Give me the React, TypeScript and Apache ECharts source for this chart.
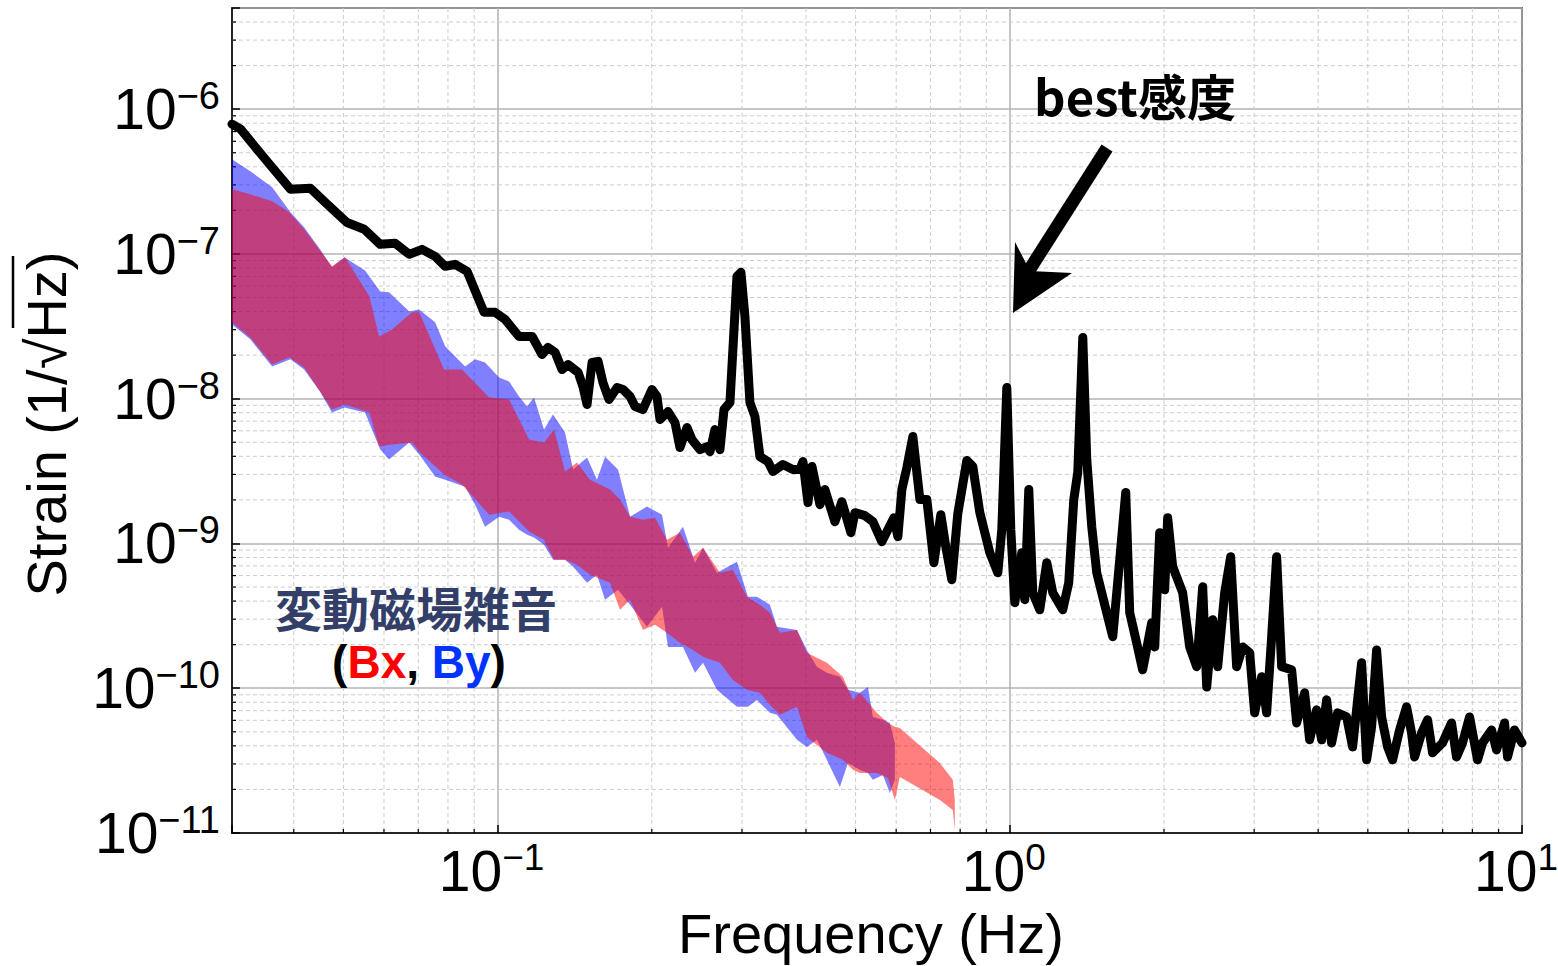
import React, { useEffect, useRef } from 'react';
import * as echarts from 'echarts';

const FONT = "'Liberation Sans', Arial, Helvetica, sans-serif";
const CJK = "'Noto Sans CJK JP', 'Liberation Sans', sans-serif";

const X_MIN = 0.0303;
const X_MAX = 10;
const Y_MIN = 1e-11;
const Y_MAX = 5e-6;

// best sensitivity curve: [frequency Hz, strain 1/sqrt(Hz)]
const sensitivityCurve: [number, number][] = [
  [0.0303, 7.88e-7], [0.0315, 7.27e-7], [0.0352, 4.51e-7], [0.0394, 2.8e-7], [0.0431, 2.84e-7],
  [0.0461, 2.27e-7], [0.0508, 1.65e-7], [0.0549, 1.48e-7], [0.059, 1.165e-7], [0.0631, 1.184e-7],
  [0.0672, 9.94e-8], [0.0712, 1.076e-7], [0.0755, 9.62e-8], [0.079, 8.21e-8], [0.0826, 8.48e-8],
  [0.0872, 7.58e-8], [0.0941, 3.95e-8], [0.0989, 3.95e-8], [0.1034, 3.53e-8], [0.1101, 2.69e-8],
  [0.1168, 2.69e-8], [0.1221, 2.02e-8], [0.1254, 2.26e-8], [0.1295, 2.09e-8], [0.1336, 1.59e-8],
  [0.1373, 1.72e-8], [0.1436, 1.52e-8], [0.1468, 1.21e-8], [0.1495, 9.12e-9], [0.1529, 1.78e-8],
  [0.1571, 1.81e-8], [0.1606, 1.29e-8], [0.165, 9.87e-9], [0.1711, 1.195e-8], [0.1758, 1.158e-8],
  [0.1814, 1.036e-8], [0.1855, 8.83e-9], [0.1922, 8.42e-9], [0.2001, 1.158e-8], [0.2047, 1.036e-8],
  [0.2075, 7.18e-9], [0.2151, 8.15e-9], [0.222, 6.84e-9], [0.227, 4.6e-9], [0.2343, 6.32e-9],
  [0.2396, 5.22e-9], [0.2484, 4.45e-9], [0.2563, 4.67e-9], [0.2598, 4.31e-9], [0.2657, 6.12e-9],
  [0.2717, 4.45e-9], [0.2767, 8.42e-9], [0.2842, 9.41e-9], [0.2933, 7.0e-8], [0.2986, 7.46e-8],
  [0.304, 3.7e-8], [0.3109, 9.41e-9], [0.318, 7.53e-9], [0.3252, 3.98e-9], [0.3371, 3.68e-9],
  [0.3448, 3.14e-9], [0.3606, 3.51e-9], [0.3772, 3.24e-9], [0.3893, 3.24e-9], [0.3946, 3.68e-9],
  [0.4036, 1.915e-9], [0.4109, 3.4e-9], [0.4259, 1.855e-9], [0.4355, 2.36e-9], [0.4555, 1.415e-9],
  [0.4701, 1.945e-9], [0.4896, 1.188e-9], [0.4985, 1.633e-9], [0.5213, 1.557e-9], [0.5404, 1.415e-9],
  [0.5625, 1.029e-9], [0.5938, 1.508e-9], [0.6046, 1.114e-9], [0.6156, 2.36e-9], [0.6295, 3.34e-9],
  [0.6467, 5.48e-9], [0.6675, 2.01e-9], [0.6887, 2.01e-9], [0.7108, 7.37e-10], [0.7334, 1.582e-9],
  [0.75, 9.5e-10], [0.7705, 5.62e-10], [0.7915, 1.607e-9], [0.8243, 3.74e-9], [0.8468, 3.4e-9],
  [0.8739, 1.633e-9], [0.914, 8.64e-10], [0.9475, 6.28e-10], [0.9647, 1.246e-9], [0.9866, 1.195e-8],
  [1.0045, 1.246e-9], [1.0228, 3.9e-10], [1.0554, 8.64e-10], [1.0698, 4.09e-10], [1.0891, 2.36e-9],
  [1.1088, 4.57e-10], [1.1442, 3.48e-10], [1.1808, 7.37e-10], [1.2131, 4.57e-10], [1.2687, 3.48e-10],
  [1.3034, 5.36e-10], [1.3332, 2.01e-9], [1.3574, 3.1e-9], [1.3883, 2.65e-8], [1.4134, 3.8e-9],
  [1.4454, 1.307e-9], [1.4783, 6.28e-10], [1.5323, 3.77e-10], [1.5886, 2.27e-10], [1.6393, 7.73e-10],
  [1.684, 2.25e-9], [1.7146, 3.32e-10], [1.7685, 2.06e-10], [1.8168, 1.34e-10], [1.8923, 2.83e-10],
  [1.9184, 1.93e-10], [1.9617, 1.188e-9], [2.0063, 4.79e-10], [2.0334, 1.508e-9], [2.0797, 6.91e-10],
  [2.1752, 4.57e-10], [2.245, 1.93e-10], [2.317, 1.41e-10], [2.3801, 5.02e-10], [2.4233, 1.02e-10],
  [2.4895, 2.97e-10], [2.5462, 1.41e-10], [2.6273, 4.57e-10], [2.6991, 8.11e-10], [2.7727, 1.41e-10],
  [2.8484, 1.93e-10], [2.9396, 1.76e-10], [3.0063, 6.76e-11], [3.1025, 1.2e-10], [3.173, 6.76e-11],
  [3.245, 2.27e-10], [3.3189, 8.11e-10], [3.3942, 1.41e-10], [3.5502, 1.34e-10], [3.6308, 5.76e-11],
  [3.7636, 9.29e-11], [3.8493, 4.4e-11], [3.9719, 7.09e-11], [4.0625, 4.4e-11], [4.1546, 8.31e-11],
  [4.2489, 4.19e-11], [4.3652, 6.76e-11], [4.5455, 6.34e-11], [4.6697, 3.93e-11], [4.8627, 1.5e-10],
  [4.9734, 3.2e-11], [5.0862, 5.41e-11], [5.2016, 1.84e-10], [5.3196, 6.34e-11], [5.4651, 3.93e-11],
  [5.5891, 3.2e-11], [5.7677, 5.15e-11], [5.9517, 7.44e-11], [6.0867, 4.91e-11], [6.1693, 3.35e-11],
  [6.3671, 4.91e-11], [6.5409, 6.05e-11], [6.69, 3.58e-11], [6.997, 4.19e-11], [7.2848, 5.76e-11],
  [7.4509, 3.35e-11], [7.6547, 4.19e-11], [7.8999, 6.34e-11], [8.1894, 3.2e-11], [8.3747, 4.19e-11],
  [8.7203, 5.15e-11], [8.9181, 3.75e-11], [9.2456, 5.76e-11], [9.371, 3.35e-11], [9.669, 5.15e-11],
  [10, 4.19e-11],
];

// By magnetic noise band: [frequency, upper, lower]
const byBand: [number, number, number][] = [
  [0.0303, 4.51e-7, 3.26e-8], [0.0329, 3.73e-7, 2.57e-8], [0.0363, 2.89e-7, 1.67e-8],
  [0.0394, 1.94e-7, 1.87e-8], [0.0419, 1.53e-7, 1.59e-8], [0.045, 1.076e-7, 1.12e-8],
  [0.0475, 8.08e-8, 8.03e-9], [0.0502, 9.47e-8, 8.69e-9], [0.0551, 7.7e-8, 8.03e-9],
  [0.059, 5.51e-8, 4.45e-9], [0.0614, 5.43e-8, 3.8e-9], [0.0672, 4.01e-8, 4.98e-9],
  [0.0703, 4.14e-8, 4.11e-9], [0.0755, 3.37e-8, 2.9e-9], [0.079, 2.3e-8, 2.76e-9],
  [0.0864, 1.67e-8, 2.47e-9], [0.0904, 1.87e-8, 1.855e-9], [0.0945, 1.78e-8, 1.307e-9],
  [0.1007, 1.4e-8, 1.53e-9], [0.1053, 1.315e-8, 1.46e-9], [0.1101, 1.036e-8, 1.246e-9],
  [0.1142, 8.83e-9, 1.15e-9], [0.1178, 1.02e-8, 1.1e-9], [0.1232, 6.12e-9, 9.81e-10],
  [0.1283, 7.78e-9, 7.73e-10], [0.1354, 5.84e-9, 7.73e-10], [0.1404, 3.24e-9, 6.91e-10],
  [0.1495, 3.92e-9, 5.36e-10], [0.1563, 2.76e-9, 6.08e-10], [0.1621, 3.98e-9, 4.09e-10],
  [0.1718, 3.24e-9, 4.79e-10], [0.1814, 1.53e-9, 3.77e-10], [0.1957, 1.8e-9, 2.66e-10],
  [0.2094, 1.582e-9, 3.66e-10], [0.2151, 9.35e-10, 1.93e-10], [0.2301, 1.307e-9, 1.93e-10],
  [0.2429, 7.37e-10, 1.28e-10], [0.2518, 9.35e-10, 1.5e-10], [0.2681, 6.28e-10, 9.75e-11],
  [0.2933, 7.49e-10, 7.44e-11], [0.3081, 4.29e-10, 7.44e-11], [0.3208, 4.29e-10, 8.31e-11],
  [0.3401, 3.77e-10, 6.76e-11], [0.351, 2.66e-10, 6.55e-11], [0.3841, 2.53e-10, 4.4e-11],
  [0.4016, 1.84e-10, 3.93e-11], [0.4201, 1.41e-10, 4.4e-11], [0.4394, 1.28e-10, 3.2e-11],
  [0.4659, 1.2e-10, 2.08e-11], [0.483, 9.75e-11, 3.05e-11], [0.5098, 9.29e-11, 2.73e-11],
  [0.5284, 1.02e-10, 2.6e-11], [0.5404, 6.34e-11, 2.33e-11], [0.5652, 6.05e-11, 2.52e-11],
  [0.5833, 5.76e-11, 1.89e-11], [0.5965, 4.19e-11, 2.33e-11],
];

// Bx magnetic noise band: [frequency, upper, lower]
const bxBand: [number, number, number][] = [
  [0.0303, 2.8e-7, 3.37e-8], [0.0329, 2.58e-7, 2.65e-8], [0.0363, 2.31e-7, 1.72e-8],
  [0.0392, 1.94e-7, 1.93e-8], [0.0419, 1.48e-7, 1.64e-8], [0.0475, 8.21e-8, 8.42e-9],
  [0.0504, 9.47e-8, 9.12e-9], [0.0562, 5.09e-8, 8.03e-9], [0.0587, 2.69e-8, 4.67e-9],
  [0.0622, 3.01e-8, 4.82e-9], [0.0681, 3.95e-8, 4.98e-9], [0.0703, 3.95e-8, 4.31e-9],
  [0.0786, 1.59e-8, 2.99e-9], [0.0852, 1.59e-8, 2.55e-9], [0.0963, 1.02e-8, 1.582e-9],
  [0.1053, 9.87e-9, 1.66e-9], [0.1152, 5.22e-9, 1.21e-9], [0.1232, 4.98e-9, 1.06e-9],
  [0.1289, 6.12e-9, 7.73e-10], [0.1354, 3.14e-9, 7.73e-10], [0.1429, 3.62e-9, 7.14e-10],
  [0.1515, 2.76e-9, 6.08e-10], [0.1658, 2.36e-9, 5.36e-10], [0.1734, 2.01e-9, 3.48e-10],
  [0.1814, 1.53e-9, 4.09e-10], [0.1922, 1.46e-9, 2.53e-10], [0.2029, 1.508e-9, 2.74e-10],
  [0.2141, 1.06e-9, 2.42e-10], [0.227, 1.188e-9, 2.06e-10], [0.2407, 8.11e-10, 1.84e-10],
  [0.2518, 9.35e-10, 1.65e-10], [0.2717, 6.28e-10, 1.5e-10], [0.288, 6.59e-10, 1.14e-10],
  [0.3067, 4.29e-10, 9.75e-11], [0.3252, 3.77e-10, 9.29e-11], [0.3401, 3.32e-10, 7.68e-11],
  [0.3557, 2.42e-10, 6.55e-11], [0.3841, 2.53e-10, 7.44e-11], [0.4016, 1.76e-10, 4.61e-11],
  [0.4394, 1.5e-10, 3.58e-11], [0.4722, 1.2e-10, 3.2e-11], [0.494, 8.31e-11, 2.73e-11],
  [0.5098, 9.29e-11, 2.6e-11], [0.55, 6.76e-11, 2.6e-11], [0.5781, 5.76e-11, 2.4e-11],
  [0.5965, 5.41e-11, 1.69e-11], [0.61, 5.32e-11, 2.44e-11], [0.7301, 3.05e-11, 1.69e-11],
  [0.7739, 2.33e-11, 1.44e-11], [0.7809, 1.69e-11, 1.05e-11],
];

const minorFreqTicks = [
  0.04, 0.05, 0.06, 0.07, 0.08, 0.09,
  0.2, 0.3, 0.4, 0.5, 0.6, 0.7, 0.8, 0.9,
  2, 3, 4, 5, 6, 7, 8, 9,
];
const minorStrainTicks = [
  2e-11, 3e-11, 4e-11, 5e-11, 6e-11, 7e-11, 8e-11, 9e-11,
  2e-10, 3e-10, 4e-10, 5e-10, 6e-10, 7e-10, 8e-10, 9e-10,
  2e-9, 3e-9, 4e-9, 5e-9, 6e-9, 7e-9, 8e-9, 9e-9,
  2e-8, 3e-8, 4e-8, 5e-8, 6e-8, 7e-8, 8e-8, 9e-8,
  2e-7, 3e-7, 4e-7, 5e-7, 6e-7, 7e-7, 8e-7, 9e-7,
  2e-6, 3e-6, 4e-6,
];

const powLabel = (v: number) => {
  const l = Math.log10(v);
  const e = Math.round(l);
  if (Math.abs(l - e) > 1e-3) return '';
  const exp = e < 0 ? '\u2212' + (-e) : String(e);
  return '{b|10}{s|' + exp + '}';
};

const yRich = {
  b: { fontSize: 57, fontFamily: FONT, color: '#000', lineHeight: 64, verticalAlign: 'middle' },
  s: { fontSize: 38, fontFamily: FONT, color: '#000', lineHeight: 38, verticalAlign: 'top' },
};
const xRich = {
  b: { fontSize: 57, fontFamily: FONT, color: '#000', lineHeight: 64, verticalAlign: 'middle' },
  s: { fontSize: 37, fontFamily: FONT, color: '#000', lineHeight: 38, verticalAlign: 'top', padding: [0, 12, 0, 0] },
};

const GRID_MAJOR = '#b3b3b3';
const GRID_MINOR = '#cccccc';

export default function App() {
  const ref = useRef<HTMLDivElement>(null);

  useEffect(() => {
    document.documentElement.style.overflow = 'hidden';
    document.body.style.margin = '0';
    document.body.style.overflow = 'hidden';
    const chart = echarts.init(ref.current!, null, { renderer: 'svg', width: 1558, height: 966 });

    const bandSeries = (name: string, rows: [number, number, number][], color: string, z: number) => ({
      name,
      type: 'custom',
      coordinateSystem: 'cartesian2d',
      data: rows,
      z,
      silent: true,
      clip: true,
      encode: { x: 0, y: 1 },
      renderItem: (params: any, api: any) => {
        if (params.dataIndex !== 0) return null;
        const upper = rows.map((r) => api.coord([r[0], r[1]]));
        const lower = rows.slice().reverse().map((r) => api.coord([r[0], r[2]]));
        return {
          type: 'polygon',
          shape: { points: upper.concat(lower) },
          style: { fill: color, stroke: null },
        };
      },
    });

    const option: any = {
      animation: false,
      backgroundColor: '#ffffff',
      grid: {
        left: 232, top: 8, right: 36, bottom: 133,
        containLabel: false,
        outerBoundsMode: 'none',
        show: true, borderColor: '#000', borderWidth: 1.5, backgroundColor: 'transparent',
      },
      xAxis: {
        type: 'log', logBase: 10, min: X_MIN, max: X_MAX,
        axisLine: { show: true, lineStyle: { color: '#000', width: 1.5 } },
        axisTick: { show: true, inside: true, length: 8, lineStyle: { color: '#000', width: 1.5 } },
        axisLabel: { formatter: powLabel, rich: xRich, margin: 6 },
        splitLine: { show: true, lineStyle: { color: GRID_MAJOR, width: 1.5 } },
        minorTick: { show: false },
        minorSplitLine: { show: false },
      },
      yAxis: {
        type: 'log', logBase: 10, min: Y_MIN, max: Y_MAX,
        axisLine: { show: true, lineStyle: { color: '#000', width: 1.5 } },
        axisTick: { show: true, inside: true, length: 8, lineStyle: { color: '#000', width: 1.5 } },
        axisLabel: { formatter: powLabel, rich: yRich, margin: 12 },
        splitLine: { show: true, lineStyle: { color: GRID_MAJOR, width: 1.5 } },
        minorTick: { show: false },
        minorSplitLine: { show: false },
      },
      series: [
        {
          name: 'minorX',
          type: 'custom',
          coordinateSystem: 'cartesian2d',
          data: minorFreqTicks.map((f) => [f, Y_MIN]),
          z: 1,
          silent: true,
          renderItem: (params: any, api: any) => {
            const cs = params.coordSys;
            const x = api.coord([api.value(0), Y_MIN])[0];
            const top = cs.y;
            const bot = cs.y + cs.height;
            return {
              type: 'group',
              children: [
                { type: 'line', shape: { x1: x, y1: top, x2: x, y2: bot }, style: { stroke: GRID_MINOR, lineWidth: 1, lineDash: [4, 3] } },
                { type: 'line', shape: { x1: x, y1: bot, x2: x, y2: bot - 4 }, style: { stroke: '#000', lineWidth: 1.2 } },
              ],
            };
          },
        },
        {
          name: 'minorY',
          type: 'custom',
          coordinateSystem: 'cartesian2d',
          data: minorStrainTicks.map((v) => [X_MIN, v]),
          z: 1,
          silent: true,
          renderItem: (params: any, api: any) => {
            const cs = params.coordSys;
            const y = api.coord([X_MIN, api.value(1)])[1];
            const l = cs.x;
            const r = cs.x + cs.width;
            return {
              type: 'group',
              children: [
                { type: 'line', shape: { x1: l, y1: y, x2: r, y2: y }, style: { stroke: GRID_MINOR, lineWidth: 1, lineDash: [4, 3] } },
                { type: 'line', shape: { x1: l, y1: y, x2: l + 4, y2: y }, style: { stroke: '#000', lineWidth: 1.2 } },
              ],
            };
          },
        },
        bandSeries('By', byBand, 'rgba(0,0,255,0.5)', 2),
        bandSeries('Bx', bxBand, 'rgba(255,0,0,0.5)', 3),
        {
          name: 'best',
          type: 'line',
          data: sensitivityCurve,
          symbol: 'none',
          showSymbol: false,
          clip: true,
          z: 5,
          lineStyle: { color: '#000', width: 9, join: 'round', cap: 'round' },
        },
      ],
      graphic: [
        {
          type: 'text', x: 871, y: 933, z: 100,
          style: { text: 'Frequency (Hz)', fontSize: 56, fontFamily: FONT, fill: '#000', align: 'center', verticalAlign: 'middle' },
        },
        {
          type: 'text', x: 46, y: 424, rotation: Math.PI / 2, z: 100,
          style: { text: 'Strain (1/\u221AHz)', fontSize: 56, fontFamily: FONT, fill: '#000', align: 'center', verticalAlign: 'middle' },
        },
        {
          type: 'line', z: 100,
          shape: { x1: 13, y1: 256, x2: 13, y2: 328 },
          style: { stroke: '#000', lineWidth: 2.5 },
        },
        {
          type: 'text', x: 1135, y: 94, z: 100,
          style: { text: 'best感度', fontSize: 49, fontWeight: 'bold', fontFamily: CJK, fill: '#000', align: 'center', verticalAlign: 'middle' },
        },
        {
          type: 'polygon', z: 100,
          shape: { points: [[1101.5, 144.5], [1112.5, 151.5], [1033.5, 275.5], [1022.5, 268.5]] },
          style: { fill: '#000' },
        },
        {
          type: 'polygon', z: 100,
          shape: { points: [[1013, 313], [1015, 242], [1030, 271], [1072, 273]] },
          style: { fill: '#000' },
        },
        {
          type: 'text', x: 416, y: 606, z: 100,
          style: { text: '変動磁場雑音', fontSize: 47, fontWeight: 'bold', fontFamily: CJK, fill: '#343f69', align: 'center', verticalAlign: 'middle' },
        },
        {
          type: 'text', x: 419, y: 662, z: 100,
          style: {
            text: '{p|(}{r|Bx}{p|, }{u|By}{p|)}',
            align: 'center', verticalAlign: 'middle',
            rich: {
              p: { fontSize: 46, fontWeight: 'bold', fontFamily: FONT, fill: '#000', color: '#000' },
              r: { fontSize: 46, fontWeight: 'bold', fontFamily: FONT, fill: '#ff0000', color: '#ff0000' },
              u: { fontSize: 46, fontWeight: 'bold', fontFamily: FONT, fill: '#0033ff', color: '#0033ff' },
            },
          },
        },
      ],
    };

    chart.setOption(option);
    return () => chart.dispose();
  }, []);

  return (
    <div
      ref={ref}
      style={{ position: 'absolute', left: 0, top: 0, width: 1558, height: 966, background: '#fff' }}
    />
  );
}
